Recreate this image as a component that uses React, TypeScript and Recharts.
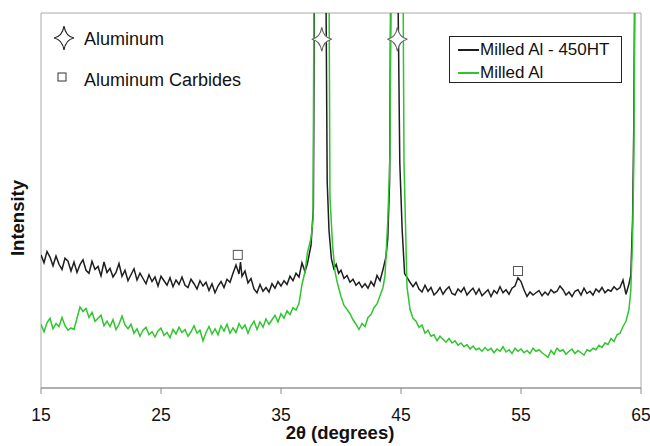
import React from 'react';
import {
  ComposedChart,
  Line,
  Scatter,
  XAxis,
  YAxis,
  ReferenceArea,
  Legend,
  Label,
} from 'recharts';

// 2θ (deg), relative intensity (0-100 is the visible window, peaks run off the top)
const milledHT: [number, number][] = [
  [15, 35.5], [15.25, 33.4], [15.5, 36.4], [15.75, 34.9], [16, 32.6], [16.25, 35.2], [16.5, 33.0], [16.75, 31.6],
  [17, 34.6], [17.25, 33.8], [17.5, 31.2], [17.75, 33.6], [18, 30.8], [18.25, 32.9], [18.5, 34.2], [18.75, 31.4],
  [19, 30.6], [19.25, 33.8], [19.5, 31.6], [19.75, 32.4], [20, 29.9], [20.25, 33.6], [20.5, 30.8], [20.75, 31.9],
  [21, 29.6], [21.25, 30.8], [21.5, 33.2], [21.75, 29.8], [22, 31.4], [22.25, 28.6], [22.5, 30.2], [22.75, 31.8],
  [23, 28.8], [23.25, 30.6], [23.5, 29.2], [23.75, 27.8], [24, 30.2], [24.25, 28.4], [24.5, 29.6], [24.75, 27.2],
  [25, 29.8], [25.25, 28.6], [25.5, 27.4], [25.75, 29.4], [26, 27.0], [26.25, 28.8], [26.5, 27.6], [26.75, 29.6],
  [27, 27.4], [27.25, 26.8], [27.5, 29.0], [27.75, 27.8], [28, 26.4], [28.25, 28.6], [28.5, 27.2], [28.75, 28.2],
  [29, 26.0], [29.25, 27.8], [29.5, 25.4], [29.75, 27.2], [30, 28.4], [30.25, 26.8], [30.5, 29.0], [30.75, 28.2],
  [31, 30.6], [31.25, 32.8], [31.5, 30.4], [31.625, 33.6], [31.75, 29.8], [32, 31.2], [32.25, 28.0], [32.5, 29.2],
  [32.75, 26.4], [33, 25.4], [33.25, 27.6], [33.5, 25.8], [33.75, 26.8], [34, 25.6], [34.25, 27.8], [34.5, 26.6],
  [34.75, 28.4], [35, 27.2], [35.25, 28.6], [35.5, 27.6], [35.75, 29.8], [36, 28.6], [36.25, 30.6], [36.5, 29.6],
  [36.75, 33.4], [37, 31.0], [37.2, 33.2], [37.5, 38], [37.7, 48], [37.8, 120], [38.3, 420], [38.75, 105],
  [38.85, 55], [39, 42], [39.2, 34.5], [39.4, 31.8], [39.6, 33.0], [39.8, 30.6], [40, 31.4], [40.25, 29.2],
  [40.5, 30.0], [40.75, 28.2], [41, 29.0], [41.25, 27.4], [41.5, 28.2], [41.75, 26.8], [42, 27.8], [42.25, 26.6],
  [42.5, 28.4], [42.75, 27.2], [43, 30.0], [43.25, 28.6], [43.5, 31.6], [43.75, 35.0], [43.9, 40], [44.05, 55],
  [44.15, 110], [44.5, 420], [44.75, 105], [44.9, 60], [45.1, 42], [45.3, 30.5], [45.5, 29.5], [45.75, 28.2],
  [46, 27.0], [46.25, 28.2], [46.5, 26.4], [46.75, 25.6], [47, 27.4], [47.25, 25.8], [47.5, 26.8], [47.75, 24.8],
  [48, 25.6], [48.25, 26.8], [48.5, 25.0], [48.75, 26.2], [49, 27.0], [49.25, 25.2], [49.5, 24.8], [49.75, 26.4],
  [50, 25.6], [50.25, 26.8], [50.5, 24.8], [50.75, 25.8], [51, 26.6], [51.25, 25.0], [51.5, 26.4], [51.75, 24.6],
  [52, 25.4], [52.25, 26.2], [52.5, 24.4], [52.75, 26.0], [53, 25.2], [53.25, 27.0], [53.5, 25.4], [53.75, 26.2],
  [54, 25.0], [54.25, 26.6], [54.5, 27.2], [54.75, 29.4], [55, 28.4], [55.25, 26.2], [55.5, 24.4], [55.75, 25.6],
  [56, 24.8], [56.25, 25.4], [56.5, 26.0], [56.75, 24.6], [57, 25.6], [57.25, 24.8], [57.5, 26.2], [57.75, 25.4],
  [58, 25.8], [58.25, 27.2], [58.5, 26.2], [58.75, 24.8], [59, 25.6], [59.25, 24.4], [59.5, 25.8], [59.75, 26.2],
  [60, 24.8], [60.25, 26.6], [60.5, 25.2], [60.75, 25.8], [61, 24.8], [61.25, 26.4], [61.5, 25.6], [61.75, 26.8],
  [62, 25.4], [62.25, 26.2], [62.5, 25.8], [62.75, 27.0], [63, 26.2], [63.25, 26.8], [63.5, 28.8], [63.75, 25.0],
  [64, 27.8], [64.15, 30.0], [64.3, 45], [64.4, 70], [64.5, 120], [64.65, 300],
];

const milled: [number, number][] = [
  [15, 17.0], [15.25, 15.0], [15.5, 17.4], [15.75, 18.6], [16, 15.8], [16.25, 17.2], [16.5, 16.4], [16.75, 18.8],
  [17, 16.6], [17.25, 15.4], [17.5, 16.0], [17.75, 15.6], [18, 18.6], [18.25, 21.6], [18.5, 20.4], [18.75, 21.2],
  [19, 18.8], [19.25, 20.2], [19.5, 17.8], [19.75, 18.6], [20, 19.4], [20.25, 16.6], [20.5, 17.8], [20.75, 16.4],
  [21, 18.2], [21.25, 15.6], [21.5, 17.0], [21.75, 19.2], [22, 16.8], [22.25, 15.8], [22.5, 17.0], [22.75, 14.6],
  [23, 15.8], [23.25, 13.8], [23.5, 15.4], [23.75, 16.2], [24, 14.2], [24.25, 15.0], [24.5, 13.6], [24.75, 15.2],
  [25, 16.0], [25.25, 14.0], [25.5, 14.8], [25.75, 13.4], [26, 15.6], [26.25, 14.4], [26.5, 16.2], [26.75, 14.8],
  [27, 15.6], [27.25, 13.8], [27.5, 15.0], [27.75, 16.6], [28, 14.6], [28.25, 15.4], [28.5, 12.6], [28.75, 14.8],
  [29, 16.4], [29.25, 14.4], [29.5, 15.8], [29.75, 14.2], [30, 16.6], [30.25, 15.2], [30.5, 17.0], [30.75, 14.6],
  [31, 16.0], [31.25, 14.8], [31.5, 17.2], [31.75, 15.8], [32, 16.8], [32.25, 14.6], [32.5, 16.6], [32.75, 17.8],
  [33, 15.6], [33.25, 17.6], [33.5, 16.2], [33.75, 18.4], [34, 17.0], [34.25, 18.2], [34.5, 19.4], [34.75, 17.6],
  [35, 19.8], [35.25, 18.6], [35.5, 20.6], [35.75, 19.6], [36, 21.4], [36.25, 20.8], [36.5, 22.6], [36.75, 27.6],
  [37, 31.0], [37.2, 36.0], [37.5, 40.0], [37.67, 45], [37.75, 110], [38.4, 500], [39, 110], [39.08, 51],
  [39.3, 38], [39.5, 31], [39.7, 28], [40, 24.4], [40.25, 22.0], [40.5, 21.0], [40.75, 19.8], [41, 18.2],
  [41.25, 17.0], [41.5, 15.6], [41.75, 17.2], [42, 16.4], [42.25, 18.8], [42.5, 19.6], [42.75, 21.4], [43, 22.4],
  [43.25, 24.6], [43.5, 26.8], [43.67, 30.0], [43.9, 45], [44.08, 62], [44.17, 110], [44.7, 500], [45.17, 110],
  [45.25, 60], [45.5, 27.0], [45.75, 21.0], [46, 18.6], [46.25, 17.8], [46.5, 16.2], [46.75, 16.8], [47, 14.6],
  [47.25, 15.4], [47.5, 13.8], [47.75, 14.2], [48, 12.6], [48.25, 13.8], [48.5, 13.0], [48.75, 12.2], [49, 13.2],
  [49.25, 12.0], [49.5, 12.6], [49.75, 11.4], [50, 12.0], [50.25, 11.0], [50.5, 11.6], [50.75, 10.4], [51, 11.2],
  [51.25, 10.2], [51.5, 10.6], [51.75, 9.8], [52, 10.8], [52.25, 10.0], [52.5, 10.6], [52.75, 9.4], [53, 10.4],
  [53.25, 9.8], [53.5, 11.0], [53.75, 9.6], [54, 10.2], [54.25, 9.2], [54.5, 10.6], [54.75, 9.8], [55, 10.4],
  [55.25, 9.4], [55.5, 10.0], [55.75, 9.2], [56, 10.6], [56.25, 9.8], [56.5, 10.2], [56.75, 9.4], [57, 8.8],
  [57.25, 8.2], [57.5, 10.0], [57.75, 9.0], [58, 10.6], [58.25, 9.8], [58.5, 10.2], [58.75, 9.0], [59, 9.8],
  [59.25, 10.4], [59.5, 9.2], [59.75, 10.0], [60, 9.4], [60.25, 8.8], [60.5, 10.2], [60.75, 9.8], [61, 10.6],
  [61.25, 10.2], [61.5, 11.4], [61.75, 10.8], [62, 12.0], [62.25, 11.6], [62.5, 13.2], [62.75, 12.4], [63, 14.2],
  [63.25, 14.6], [63.5, 16.4], [63.75, 17.8], [64, 21.0], [64.15, 26.0], [64.3, 40], [64.4, 60], [64.5, 110],
  [64.65, 300],
];

// phase markers
const aluminumPeaks: [number, number][] = [[38.4, 93], [44.7, 93]];
const carbidePeaks: [number, number][] = [[31.4, 35.5], [54.75, 31.2]];

const xTicks = [15, 25, 35, 45, 55, 65];

const BLACK = '#1e1e1e';
const GREEN = '#2fc52f';
const FONT = '"Liberation Sans", Arial, sans-serif';

const toPoints = (arr: [number, number][]) => arr.map(([x, y]) => ({ x, y }));

const starPath = 'M0,-12 Q1.6,-1.6 10,0 Q1.6,1.6 0,12 Q-1.6,1.6 -10,0 Q-1.6,-1.6 0,-12 Z';

const StarShape = (props: any) => (
  <path d={starPath} transform={`translate(${props.cx},${props.cy})`} fill="#fff" stroke="#666" strokeWidth={1.2} />
);

const SquareShape = (props: any) => (
  <rect x={props.cx - 4.5} y={props.cy - 4.5} width={9} height={9} fill="#fff" stroke="#555" strokeWidth={1} />
);

const SeriesLegend = () => (
  <div
    style={{
      width: 171,
      height: 45,
      border: '1px solid #222',
      background: '#fff',
      fontFamily: FONT,
      fontSize: 17,
      color: '#111',
      position: 'relative',
    }}
  >
    {[
      { name: 'Milled Al - 450HT', color: BLACK, top: 3 },
      { name: 'Milled Al', color: GREEN, top: 26 },
    ].map((item) => (
      <div key={item.name} style={{ position: 'absolute', left: 8, top: item.top, display: 'flex', alignItems: 'center', lineHeight: '20px' }}>
        <span style={{ display: 'inline-block', width: 21, height: 2, background: item.color }} />
        <span style={{ marginLeft: 1, whiteSpace: 'nowrap' }}>{item.name}</span>
      </div>
    ))}
  </div>
);

export default function App() {
  return (
    <div style={{ position: 'absolute', left: 0, top: 0, width: 650, height: 446, background: '#fff' }}>
      <ComposedChart width={650} height={446} margin={{ top: 13, right: 9, bottom: 0, left: 41 }}>
        <ReferenceArea x1={15} x2={65} y1={0} y2={100} fill="none" stroke="#aaa" strokeWidth={1} />
        <XAxis
          type="number"
          dataKey="x"
          domain={[15, 65]}
          ticks={xTicks}
          height={58}
          tickSize={6}
          tickMargin={15}
          axisLine={{ stroke: '#8a8a8a' }}
          tickLine={{ stroke: '#8a8a8a' }}
          tick={{ fontSize: 17.5, fill: '#111', fontFamily: FONT }}
          allowDataOverflow
        >
          <Label
            content={() => (
              <text x={340} y={439} textAnchor="middle" fontFamily={FONT} fontSize={18.5} fontWeight="bold" fill="#111">
                2θ (degrees)
              </text>
            )}
          />
        </XAxis>
        <YAxis type="number" dataKey="y" domain={[0, 100]} allowDataOverflow hide />
        <Legend
          layout="vertical"
          align="center"
          verticalAlign="middle"
          content={() => <SeriesLegend />}
          wrapperStyle={{ position: 'absolute', left: 449, top: 36, width: 173, height: 47 }}
        />
        <Line
          data={toPoints(milledHT)}
          dataKey="y"
          name="Milled Al - 450HT"
          stroke={BLACK}
          strokeWidth={1.5}
          dot={false}
          isAnimationActive={false}
        />
        <Line
          data={toPoints(milled)}
          dataKey="y"
          name="Milled Al"
          stroke={GREEN}
          strokeWidth={1.5}
          dot={false}
          isAnimationActive={false}
        />
        <Scatter data={toPoints(aluminumPeaks)} dataKey="y" shape={StarShape} isAnimationActive={false} />
        <Scatter data={toPoints(carbidePeaks)} dataKey="y" shape={SquareShape} isAnimationActive={false} />
      </ComposedChart>

      {/* marker key, top-left */}
      <svg width={650} height={446} style={{ position: 'absolute', left: 0, top: 0, pointerEvents: 'none' }}>
        <path d={starPath} transform="translate(64,38)" fill="#fff" stroke="#222" strokeWidth={1.2} />
        <text x={84} y={45} fontFamily={FONT} fontSize={18} fill="#111">Aluminum</text>
        <rect x={58} y={73} width={8} height={8} fill="#fff" stroke="#333" strokeWidth={1} />
        <text x={84} y={86} fontFamily={FONT} fontSize={18} fill="#111">Aluminum Carbides</text>
        <text
          x={0}
          y={0}
          transform="translate(24,218) rotate(-90)"
          textAnchor="middle"
          fontFamily={FONT}
          fontSize={18.5}
          fontWeight="bold"
          fill="#111"
        >
          Intensity
        </text>
      </svg>
    </div>
  );
}
